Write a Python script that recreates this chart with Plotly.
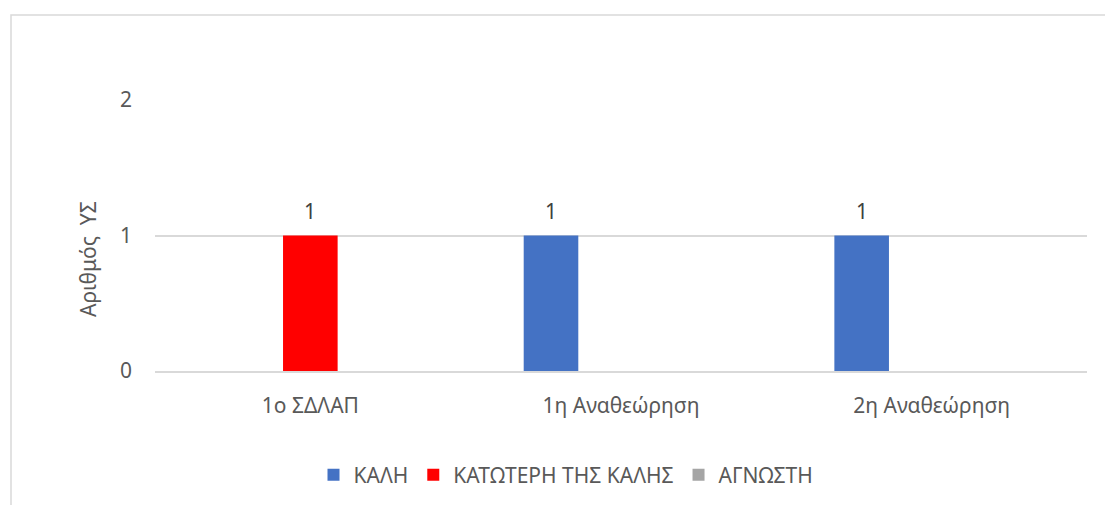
import plotly.graph_objects as go

categories = ["1ο ΣΔΛΑΠ", "1η Αναθεώρηση", "2η Αναθεώρηση"]
series_names = ["ΚΑΛΗ", "ΚΑΤΩΤΕΡΗ ΤΗΣ ΚΑΛΗΣ", "ΑΓΝΩΣΤΗ"]
kali = [0, 1, 1]
katoteri = [1, 0, 0]
agnosti = [0, 0, 0]
colors = ["#4472C4", "#FF0000", "#A5A5A5"]
y_ticks = [0, 1, 2]
y_title = "Αριθμός  ΥΣ"

W, H = 1105, 505
L, R, T, B = 155, 18, 100, 134
pw, ph = W - L - R, H - T - B

def px_x(p):
    return (p - L) / pw

def px_y(p):
    return (H - B - p) / ph

FONT = "Noto Sans"
TXT = "#595959"
FS = 21

fig = go.Figure()
all_series = [kali, katoteri, agnosti]
for name, vals, col in zip(series_names, all_series, colors):
    fig.add_trace(go.Bar(
        x=categories, y=vals, name=name,
        marker=dict(color=col, line=dict(width=0)),
        hoverinfo="skip",
    ))

bargap = 0.324
bargroupgap = 0.22
slot_px = (1 - bargap) * pw / len(categories) / len(all_series)
annotations = []
for si, vals in enumerate(all_series):
    off = (si - (len(all_series) - 1) / 2) * slot_px
    for c, v in zip(categories, vals):
        if v:
            annotations.append(dict(
                x=c, y=v, xref="x", yref="y", text=str(v), showarrow=False,
                xshift=off, yshift=25, yanchor="middle",
                font=dict(family=FONT, size=FS, color="#404040"),
            ))

annotations.append(dict(
    x=px_x(88), y=px_y(259), xref="paper", yref="paper", text=y_title,
    textangle=-90, showarrow=False, xanchor="center", yanchor="middle",
    font=dict(family=FONT, size=FS, color=TXT),
))

fig.update_layout(
    width=W, height=H,
    margin=dict(l=L, r=R, t=T, b=B, autoexpand=False),
    paper_bgcolor="white", plot_bgcolor="white",
    barmode="group", bargap=bargap, bargroupgap=bargroupgap,
    font=dict(family=FONT, size=FS, color=TXT),
    showlegend=True,
    legend=dict(
        orientation="h", x=px_x(566), y=px_y(475), xanchor="center", yanchor="middle",
        font=dict(family=FONT, size=FS, color=TXT), itemwidth=30,
        traceorder="normal",
    ),
    annotations=annotations,
    shapes=[dict(
        type="rect", xref="paper", yref="paper",
        x0=px_x(11), x1=px_x(1140), y0=px_y(15), y1=px_y(560),
        line=dict(color="#D9D9D9", width=1.5), fillcolor="rgba(0,0,0,0)", layer="below",
    )],
)
fig.update_xaxes(
    showgrid=False, showline=True, linecolor="#D9D9D9", linewidth=1.5,
    ticks="", ticklabelstandoff=15, tickfont=dict(family=FONT, size=FS, color=TXT),
    fixedrange=True,
)
fig.update_yaxes(
    range=[0, 2], tickvals=y_ticks, ticktext=[str(t) for t in y_ticks],
    showgrid=True, gridcolor="#D9D9D9", gridwidth=1.5, zeroline=False,
    showline=False, ticks="", ticklabelstandoff=22,
    tickfont=dict(family=FONT, size=FS, color=TXT), fixedrange=True,
)

fig.write_html(
    "out.html",
    config={"displayModeBar": False},
    post_script="document.body.style.margin='0';document.body.style.padding='0';",
)
